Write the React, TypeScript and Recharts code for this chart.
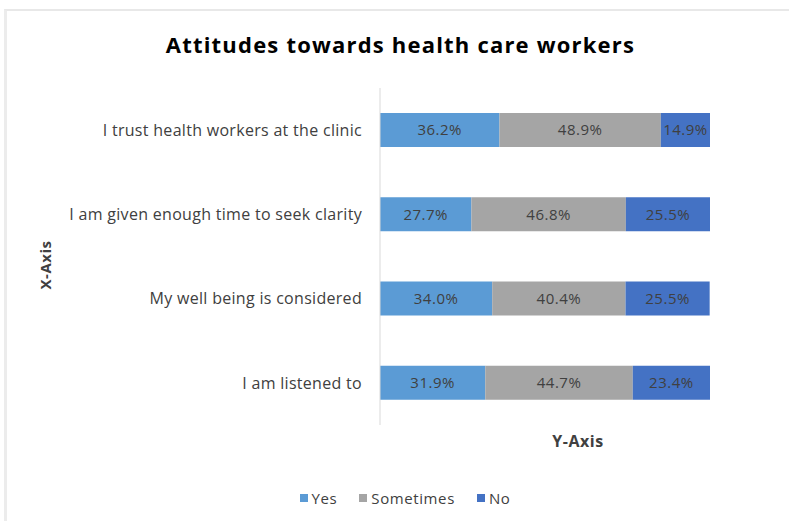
import React from "react";
import { Bar, BarChart, LabelList, XAxis, YAxis } from "recharts";

const statements = [
  "I trust health workers at the clinic",
  "I am given enough time to seek clarity",
  "My well being is considered",
  "I am listened to",
];
const yesValues = [36.2, 27.7, 34.0, 31.9];
const sometimesValues = [48.9, 46.8, 40.4, 44.7];
const noValues = [14.9, 25.5, 25.5, 23.4];

const series = [
  { key: "yes", label: "Yes", color: "#5B9BD5" },
  { key: "sometimes", label: "Sometimes", color: "#A5A5A5" },
  { key: "no", label: "No", color: "#4472C4" },
];

const data = statements.map((s, i) => ({
  name: s,
  yes: yesValues[i],
  sometimes: sometimesValues[i],
  no: noValues[i],
}));

const FONT = "'Open Sans', 'Liberation Sans', sans-serif";
const TEXT = "#404040";

const fmt = (v: number) => `${Number(v).toFixed(1)}%`;

export default function App() {
  return (
    <div
      style={{
        position: "absolute",
        top: 0,
        left: 0,
        width: 789,
        height: 521,
        background: "#fff",
        fontFamily: FONT,
      }}
    >
      <div
        style={{
          position: "absolute",
          top: 9,
          left: 4,
          right: 0,
          bottom: 0,
          borderTop: "2px solid #e8e8e8",
          borderLeft: "3px solid #ececec",
        }}
      />
      <div
        style={{
          position: "absolute",
          top: 29,
          left: 0,
          width: 801,
          textAlign: "center",
          fontSize: 22,
          fontWeight: 700,
          letterSpacing: 1.2,
          color: "#000",
        }}
      >
        Attitudes towards health care workers
      </div>
      <div
        style={{
          position: "absolute",
          left: 45,
          top: 265,
          transform: "translate(-50%, -50%) rotate(-90deg)",
          fontSize: 15,
          fontWeight: 700,
          letterSpacing: 0.5,
          color: TEXT,
          whiteSpace: "nowrap",
        }}
      >
        X-Axis
      </div>
      <div
        style={{
          position: "absolute",
          left: 578,
          top: 441,
          transform: "translate(-50%, -50%)",
          fontSize: 16,
          fontWeight: 700,
          letterSpacing: 0.5,
          color: TEXT,
        }}
      >
        Y-Axis
      </div>
      <div
        style={{
          position: "absolute",
          top: 488,
          left: 0,
          width: 810,
          display: "flex",
          justifyContent: "center",
          gap: 22,
          fontSize: 15,
          letterSpacing: 0.6,
          color: TEXT,
        }}
      >
        {series.map((s) => (
          <div key={s.key} style={{ display: "flex", alignItems: "center", gap: 4 }}>
            <span style={{ width: 8, height: 8, background: s.color, display: "inline-block" }} />
            <span>{s.label}</span>
          </div>
        ))}
      </div>
      <BarChart
        width={789}
        height={521}
        data={data}
        layout="vertical"
        barSize={34}
        margin={{ top: 88, right: 79, bottom: 96, left: 60 }}
        style={{ position: "absolute", top: 0, left: 0 }}
      >
        <XAxis type="number" domain={[0, 100]} hide />
        <YAxis
          type="category"
          dataKey="name"
          width={320}
          axisLine={{ stroke: "#d9d9d9" }}
          tickLine={false}
          tickSize={0}
          tickMargin={18}
          tick={{ fill: TEXT, fontSize: 16, fontFamily: FONT, letterSpacing: 0.3 }}
          interval={0}
        />
        {series.map((s) => (
          <Bar
            key={s.key}
            dataKey={s.key}
            name={s.label}
            stackId="a"
            fill={s.color}
            isAnimationActive={false}
          >
            <LabelList
              dataKey={s.key}
              position="center"
              formatter={fmt}
              fill={TEXT}
              fontSize={15}
              fontFamily={FONT}
              letterSpacing={0.5}
            />
          </Bar>
        ))}
      </BarChart>
    </div>
  );
}
